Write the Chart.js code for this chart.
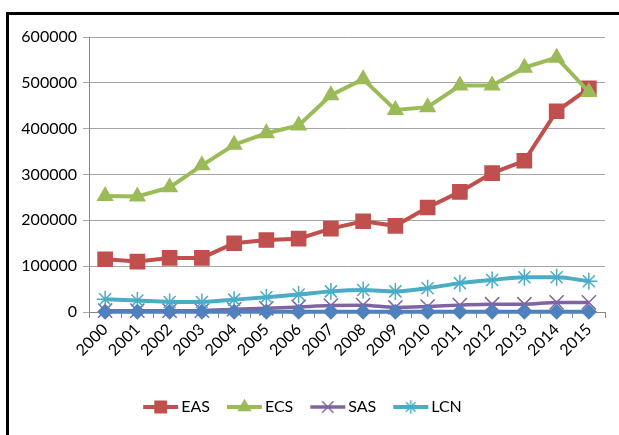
<!DOCTYPE html>
<html>
<head>
<meta charset="utf-8">
<script src="https://cdn.jsdelivr.net/npm/chart.js@4/dist/chart.umd.min.js"></script>
<style>
  html, body { margin: 0; padding: 0; background: #fff; overflow: hidden; }
  #frame { position: absolute; left: 6px; top: 12px; width: 700px; height: 500px; border: 3px solid #000; }
  #wrap { position: absolute; left: 0; top: 0; width: 619px; height: 435px; }
</style>
</head>
<body>
<div id="frame"></div>
<div id="wrap"><canvas id="chart" width="619" height="435"></canvas></div>
<script>
// categories
const years = ["2000", "2001", "2002", "2003", "2004", "2005", "2006", "2007",
               "2008", "2009", "2010", "2011", "2012", "2013", "2014", "2015"];

// series values
const eas = [115000, 110000, 118000, 118000, 150000, 157000, 160000, 182000,
             198000, 188000, 228000, 262000, 303000, 330000, 438000, 488000];
const ecs = [253000, 252000, 272000, 320000, 365000, 390000, 407000, 473000,
             508000, 441000, 447000, 494000, 494000, 533000, 555000, 480000];
const sas = [3000, 3000, 3000, 3000, 6000, 8000, 11000, 14000,
             15000, 10000, 12000, 15000, 17000, 17000, 21000, 21000];
const lcn = [28000, 25000, 22000, 22000, 27000, 32000, 38000, 45000,
             48000, 45000, 52000, 63000, 70000, 76000, 76000, 67000];
const other = [500, 500, 500, 500, 500, 500, 500, 500,
               500, 500, 500, 500, 500, 500, 500, 500];

// value axis
const yMin = 0;
const yMax = 600000;
const yStep = 100000;

const FONT = "Lato, 'Open Sans', sans-serif";

// line-with-marker swatch for the legend; the image is wider than the legend box
// so the line runs up to the label text
function swatch(color, style, radius, lineW) {
  const c = document.createElement("canvas");
  c.width = 46; c.height = 18;
  const ctx = c.getContext("2d");
  ctx.strokeStyle = color;
  ctx.lineWidth = lineW;
  ctx.beginPath();
  ctx.moveTo(8, 9); ctx.lineTo(43, 9);
  ctx.stroke();
  ctx.fillStyle = color;
  ctx.lineWidth = 1.5;
  Chart.helpers.drawPoint(ctx, { pointStyle: style, radius: radius, borderWidth: 1.5 }, 25.5, 9);
  return c;
}

function series(label, data, color, style, radius, width, smooth, order) {
  return {
    label: label,
    data: data,
    borderColor: color,
    backgroundColor: color,
    borderWidth: width,
    pointStyle: style,
    pointRadius: radius,
    pointHoverRadius: radius,
    pointBorderWidth: 1.5,
    pointBorderColor: color,
    pointBackgroundColor: color,
    cubicInterpolationMode: smooth ? "monotone" : "default",
    tension: 0,
    clip: false,
    order: order,
    legendSwatch: swatch(color, style, radius * 0.8, width)
  };
}

const datasets = [
  series("EAS", eas, "#C0504D", "rect", 10, 4, false, 5),
  series("ECS", ecs, "#9BBB59", "triangle", 8.5, 4, false, 4),
  series("SAS", sas, "#8064A2", "crossRot", 10, 3.5, true, 3),
  series("LCN", lcn, "#4BACC6", "star", 8.5, 4, true, 2),
  series("", other, "#4F81BD", "rectRot", 7, 4, false, 1)
];

new Chart(document.getElementById("chart"), {
  type: "line",
  data: { labels: years, datasets: datasets },
  options: {
    responsive: false,
    animation: false,
    layout: { padding: { left: 0, right: 14, top: 37, bottom: 10 } },
    scales: {
      x: {
        offset: true,
        grid: { offset: true, drawOnChartArea: false, drawTicks: true, tickLength: 6, color: "#868686" },
        border: { color: "#868686", width: 1 },
        ticks: {
          minRotation: 45, maxRotation: 45, autoSkip: false,
          color: "#000", padding: 2,
          font: { family: FONT, size: 16 }
        },
        afterFit: (s) => { s.height = 70; }
      },
      y: {
        min: yMin, max: yMax,
        grid: { color: "#A6A6A6", lineWidth: 1, tickLength: 6 },
        border: { color: "#868686", width: 1 },
        ticks: {
          stepSize: yStep, color: "#000", padding: 6,
          font: { family: FONT, size: 16 },
          callback: (v) => String(v)
        },
        afterFit: (s) => { s.width = 89; }
      }
    },
    plugins: {
      tooltip: { enabled: false },
      legend: {
        position: "bottom",
        labels: {
          usePointStyle: true,
          pointStyleWidth: 30,
          color: "#000",
          padding: 17,
          font: { family: FONT, size: 16 },
          filter: (item) => item.datasetIndex < 4,
          sort: (a, b) => a.datasetIndex - b.datasetIndex,
          generateLabels: (chart) => chart.data.datasets.map((ds, i) => ({
            text: ds.label,
            fillStyle: ds.borderColor,
            strokeStyle: ds.borderColor,
            lineWidth: 0,
            pointStyle: ds.legendSwatch,
            fontColor: "#000",
            hidden: false,
            datasetIndex: i
          }))
        }
      }
    }
  }
});
</script>
</body>
</html>
